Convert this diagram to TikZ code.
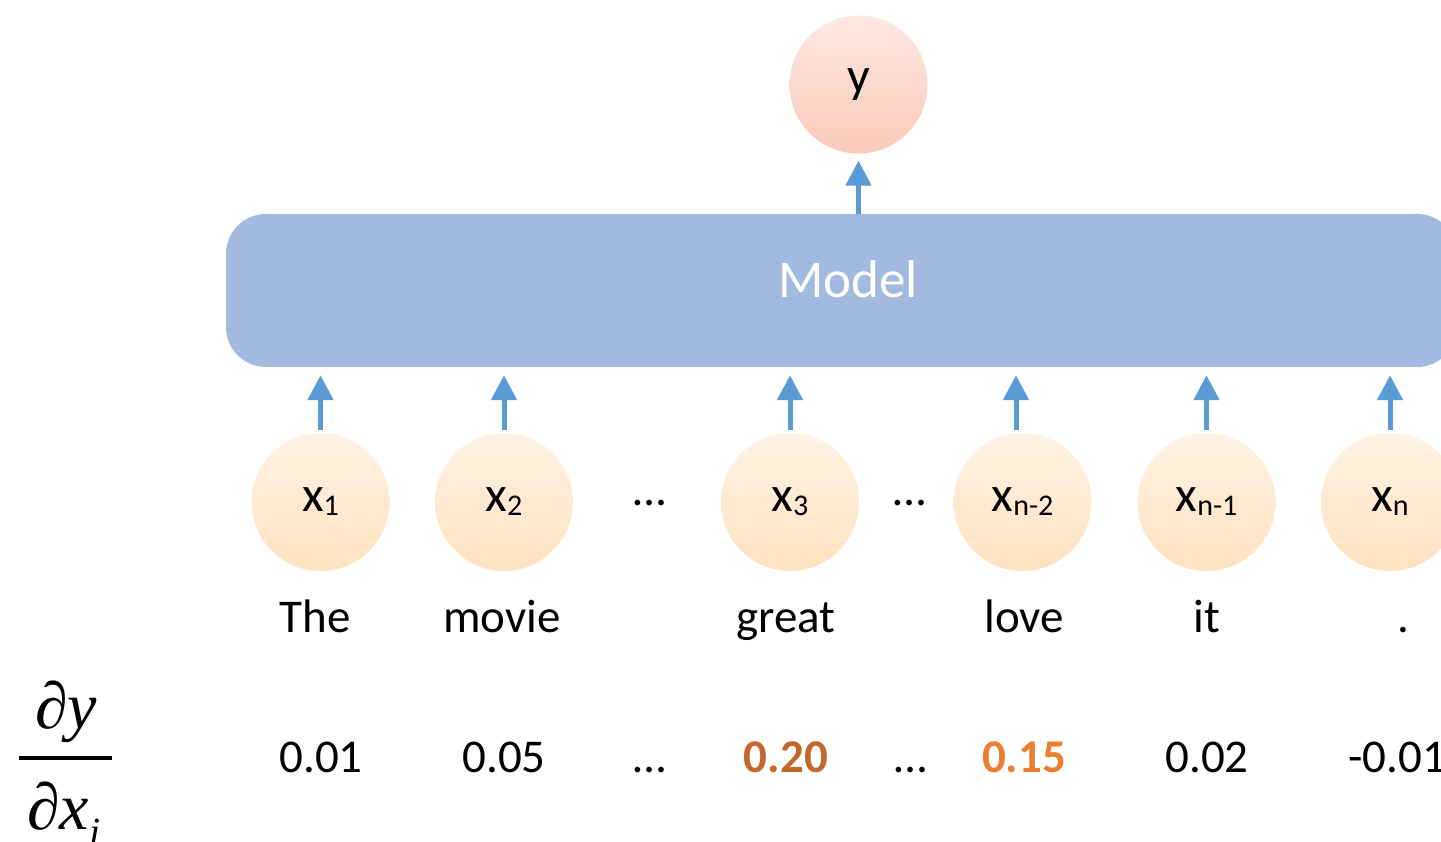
\documentclass[tikz,border=0pt]{standalone}
\usepackage{fontspec}
\setmainfont{Carlito}
\newfontfamily\serifit{Liberation Serif}[ItalicFont=* Italic]
\usetikzlibrary{arrows.meta}

\definecolor{arrowblue}{HTML}{5B9BD5}
\definecolor{modelfill}{HTML}{A2B9E0}
\definecolor{intop}{HTML}{FFF3E5}
\definecolor{inbot}{HTML}{FFE2BF}
\definecolor{outtop}{HTML}{FDE9E3}
\definecolor{outbot}{HTML}{FCC9B8}
\definecolor{hotdark}{HTML}{C4672B}
\definecolor{hotlight}{HTML}{ED7D31}

\newcommand{\sz}[1]{\fontsize{#1}{#1}\selectfont}
\newcommand{\tok}[2]{x\raisebox{-4pt}{\sz{30}#2}}

\tikzset{
  inputnode/.style={circle, minimum size=138pt, inner sep=0pt,
    top color=intop, bottom color=inbot, draw=none, font=\sz{50}},
  outputnode/.style={circle, minimum size=138pt, inner sep=0pt,
    top color=outtop, bottom color=outbot, draw=none, font=\sz{50}},
  modelbox/.style={rectangle, rounded corners=40pt, fill=modelfill,
    minimum width=1231pt, minimum height=153pt, inner sep=0pt},
  modeltext/.style={anchor=base, inner sep=0pt, text=white, font=\sz{53}},
  feed/.style={draw=arrowblue, line width=5pt,
    -{Triangle[width=25pt,length=25pt]}},
  word/.style={anchor=base, inner sep=0pt, font=\sz{47}},
  grad/.style={anchor=base, inner sep=0pt, font=\sz{47}},
}

\begin{document}
\begin{tikzpicture}[x=1pt,y=-1pt]
  \useasboundingbox (0,0) rectangle (1441,842);
  \clip (0,0) rectangle (1441,842);

  % output and model
  \node[outputnode] (y) at (858.5,84.5) {y};
  \node[modelbox] (model) at (841.5,290.5) {};
  \node[modeltext] (modellabel) at (848,298) {Model};

  % input tokens
  \node[inputnode] (x1)  at (320.5,502) {\tok{x}{1}};
  \node[inputnode] (x2)  at (504,502)   {\tok{x}{2}};
  \node[inputnode] (x3)  at (790,502)   {\tok{x}{3}};
  \node[inputnode] (xn2) at (1022.5,502) {\tok{x}{n-2}};
  \node[inputnode] (xn1) at (1206.5,502) {\tok{x}{n-1}};
  \node[inputnode] (xn)  at (1390,502)  {\tok{x}{n}};
  \node[word] (d1) at (650,505) {…};
  \node[word] (d2) at (910,505) {…};

  % arrows into the model and out of it
  \foreach \n/\dx in {x1/0, x2/0, x3/0, xn2/-6.5, xn1/0, xn/0}
    \draw[feed, shorten <=3pt, shorten >=8pt]
      ([xshift=\dx pt]\n.north) -- ([xshift=\dx pt]\n.north |- model.south);
  \draw[feed, shorten >=5pt] (y.south |- model.north) -- ([yshift=-2pt]y.south);

  % words
  \node[word] (w1) at (315,632)  {The};
  \node[word] (w2) at (502,632)  {movie};
  \node[word] (w3) at (786,632)  {great};
  \node[word] (w4) at (1024,632) {love};
  \node[word] (w5) at (1207,632) {it};
  \node[word] (w6) at (1403,632) {.};

  % gradient values
  \node[grad] (g1) at (321,772)  {0.01};
  \node[grad] (g2) at (504,772)  {0.05};
  \node[grad] (g3) at (650,772)  {…};
  \node[grad, text=hotdark, font=\sz{47}\bfseries] (g4) at (786,772) {0.20};
  \node[grad] (g5) at (911,772)  {…};
  \node[grad, text=hotlight, font=\sz{47}\bfseries] (g6) at (1024,772) {0.15};
  \node[grad] (g7) at (1207,772) {0.02};
  \node[grad, anchor=base west] (g8) at (1348,772) {-0.01};

  % partial derivative dy/dx_i
  \node[anchor=base, inner sep=0pt, font=\serifit\itshape\sz{66}] (num) at (66,728) {∂y};
  \fill (19,755.5) rectangle (112,760);
  \node[anchor=base west, inner sep=0pt, font=\serifit\itshape\sz{66}] (den) at (27,829)
    {∂x\raisebox{-16pt}{\sz{40}i}};
\end{tikzpicture}
\end{document}
